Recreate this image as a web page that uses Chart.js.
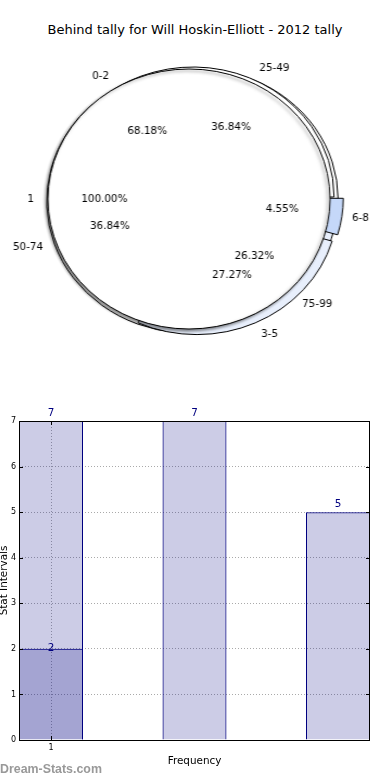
<!DOCTYPE html>
<html>
<head>
<meta charset="utf-8">
<script src="https://cdn.jsdelivr.net/npm/chart.js@4.4.0/dist/chart.umd.min.js"></script>
<style>
  body { margin: 0; background: #fff; width: 390px; height: 780px; position: relative; overflow: hidden; font-family: "DejaVu Sans", sans-serif; }
  #title { position: absolute; top: 21px; left: 0; width: 390px; text-align: center; font-size: 13px; line-height: 18px; color: #000; }
  #pie { position: absolute; left: 9px; top: 49px; width: 360px; height: 300px; transform: scaleX(1.085); transform-origin: 180px 150px; }
  #pie canvas { position: absolute; left: 0; top: 0; }
  #bars { position: absolute; left: 0; top: 400px; }
  #mark { position: absolute; left: 0; top: 762px; font: bold 12.4px "Liberation Sans", sans-serif; color: #999; }
</style>
</head>
<body>
<div id="title">Behind tally for Will Hoskin-Elliott - 2012 tally</div>
<div id="pie">
  <canvas id="pieOuter" width="360" height="300"></canvas>
  <canvas id="pieInner" width="360" height="300"></canvas>
  <canvas id="pieWhole" width="360" height="300"></canvas>
</div>
<canvas id="bars" width="390" height="380"></canvas>
<div id="mark">Dream-Stats.com</div>
<script>
// pie data
const innerLabels = ['0-2', '3-5', '6-8'];
const innerValues = [15, 6, 1];
const outerLabels = ['25-49', '50-74', '75-99'];
const outerValues = [7, 7, 5];
const wholeLabels = ['1'];
const wholeValues = [2];

// bar data
const barX = [1, 2, 3];
const barTotals = [7, 7, 5];
const barInnerX = [1];
const barInnerValues = [2];
const xTicks = [1];

const SX = 1.085;   // horizontal stretch of the pie (matches the oval)
const R = 130;

// chart.js goes clockwise from 12 o'clock, the original goes counter-clockwise from 3 o'clock
function makePie(id, labels, values, colors, offsets, padding, border, plugins) {
    return new Chart(document.getElementById(id), {
        type: 'pie',
        data: {
            labels: labels.slice().reverse(),
            datasets: [{
                data: values.slice().reverse(),
                backgroundColor: colors.slice().reverse(),
                offset: offsets.slice().reverse(),
                borderColor: '#000',
                borderWidth: border
            }]
        },
        options: {
            responsive: false,
            animation: false,
            events: [],
            radius: R,
            rotation: 90,
            layout: { padding: padding },
            plugins: { legend: { display: false }, tooltip: { enabled: false } }
        },
        plugins: plugins || []
    });
}

const pieOuter = makePie('pieOuter', outerLabels, outerValues,
    ['#ffffff', '#ffffff', '#e8effc'], [0, 28, 0], { left: 14.8 }, 1);
const pieInner = makePie('pieInner', innerLabels, innerValues,
    ['#ffffff', '#e8effc', '#c5d8f9'], [0, 33, 20], { left: 7.4, bottom: 4 }, 1);

// the single 100% wedge: shadow, and a plain circle outline (no radius line)
const shadowPlugin = {
    id: 'shadow',
    beforeDatasetsDraw(chart) {
        const ctx = chart.ctx;
        ctx.save();
        ctx.shadowColor = 'rgba(0,0,0,0.45)';
        ctx.shadowOffsetX = -2;
        ctx.shadowOffsetY = 2;
        ctx.shadowBlur = 3;
    },
    afterDatasetsDraw(chart) {
        const ctx = chart.ctx;
        ctx.strokeStyle = '#000';
        ctx.lineWidth = 1;
        chart.getDatasetMeta(0).data.forEach(arc => {
            ctx.beginPath();
            ctx.arc(arc.x, arc.y, arc.outerRadius, 0, Math.PI * 2);
            ctx.stroke();
        });
        ctx.restore();
    }
};

function drawText(ctx, text, x, y, align) {
    ctx.save();
    ctx.translate(x, y);
    ctx.scale(1 / SX, 1);
    ctx.textAlign = align;
    ctx.fillText(text, 0, 0);
    ctx.restore();
}

const pieLabelPlugin = {
    id: 'pieLabels',
    afterDraw(chart) {
        const ctx = chart.ctx;
        ctx.save();
        ctx.font = '10.4px "DejaVu Sans"';
        ctx.fillStyle = '#000';
        ctx.textBaseline = 'middle';
        [pieOuter, pieInner, chart].forEach(c => {
            const meta = c.getDatasetMeta(0);
            const vals = c.data.datasets[0].data;
            const sum = vals.reduce((a, b) => a + b, 0);
            meta.data.forEach((arc, i) => {
                const mid = (arc.startAngle + arc.endAngle) / 2;
                const shift = (arc.options.offset || 0) / 4;
                const cos = Math.cos(mid), sin = Math.sin(mid);
                const cx = arc.x + cos * shift, cy = arc.y + sin * shift;
                const pct = (vals[i] / sum * 100).toFixed(2) + '%';
                drawText(ctx, c.data.labels[i], cx + cos * 1.1 * R, cy + sin * 1.1 * R, cos > 0 ? 'left' : 'right');
                drawText(ctx, pct, cx + cos * 0.6 * R, cy + sin * 0.6 * R, 'center');
            });
        });
        ctx.restore();
    }
};

const pieWhole = makePie('pieWhole', wholeLabels, wholeValues,
    ['#ffffff'], [0], 0, 0, [shadowPlugin, pieLabelPlugin]);

// bar chart
const framePlugin = {
    id: 'frame',
    afterDraw(chart) {
        const { ctx, chartArea: a, scales } = chart;
        ctx.save();
        ctx.strokeStyle = '#000';
        ctx.lineWidth = 1;
        ctx.strokeRect(Math.round(a.left) + 0.5, Math.round(a.top) + 0.5,
            Math.round(a.right - a.left) - 1, Math.round(a.bottom - a.top));
        ctx.beginPath();
        scales.y.ticks.forEach(t => {
            const y = Math.round(scales.y.getPixelForValue(t.value)) + 0.5;
            ctx.moveTo(a.left, y); ctx.lineTo(a.left + 4, y);
            ctx.moveTo(a.right, y); ctx.lineTo(a.right - 4, y);
        });
        scales.x.ticks.forEach(t => {
            const x = Math.round(scales.x.getPixelForValue(t.value)) + 0.5;
            ctx.moveTo(x, a.bottom); ctx.lineTo(x, a.bottom - 4);
            ctx.moveTo(x, a.top); ctx.lineTo(x, a.top + 4);
        });
        ctx.stroke();
        ctx.restore();
    }
};

const valueLabelPlugin = {
    id: 'valueLabels',
    afterDraw(chart) {
        const ctx = chart.ctx;
        ctx.save();
        ctx.font = '10.4px "DejaVu Sans"';
        ctx.fillStyle = '#000080';
        ctx.textAlign = 'center';
        ctx.textBaseline = 'alphabetic';
        chart.data.datasets.forEach((ds, di) => {
            chart.getDatasetMeta(di).data.forEach((bar, i) => {
                ctx.fillText(String(ds.data[i].y), bar.x, bar.y - ds.labelGap);
            });
        });
        ctx.restore();
    }
};

const barColor = 'rgba(0,0,128,0.2)';
new Chart(document.getElementById('bars'), {
    type: 'bar',
    data: {
        datasets: [
            {
                data: barInnerX.map((x, i) => ({ x: x, y: barInnerValues[i] })),
                backgroundColor: barColor, borderColor: '#000080', borderWidth: 1,
                grouped: false, order: 0, labelGap: -2,
                barPercentage: 0.446, categoryPercentage: 1
            },
            {
                data: barX.map((x, i) => ({ x: x, y: barTotals[i] })),
                backgroundColor: barColor, borderColor: '#000080', borderWidth: 1,
                grouped: false, order: 1, labelGap: 5,
                barPercentage: 0.446, categoryPercentage: 1
            }
        ]
    },
    options: {
        responsive: false,
        animation: false,
        events: [],
        layout: { padding: { top: 21, right: 20, left: 0, bottom: 0 } },
        plugins: { legend: { display: false }, tooltip: { enabled: false } },
        scales: {
            x: {
                type: 'linear',
                min: 0.777,
                max: 3.223,
                offset: false,
                z: 1,
                afterBuildTicks: s => { s.ticks = xTicks.map(v => ({ value: v })); },
                afterFit: s => { s.height = 40; },
                ticks: { color: '#000', font: { family: 'DejaVu Sans', size: 8 }, padding: 3 },
                grid: { color: '#aaaaaa', drawTicks: false, offset: false },
                border: { display: false, dash: [1, 2] },
                title: { display: true, text: 'Frequency', color: '#000',
                    font: { family: 'DejaVu Sans', size: 10.4 }, padding: { top: 0, bottom: 12.8 } }
            },
            y: {
                min: 0,
                max: 7,
                z: 1,
                afterFit: s => { s.width = 19; },
                ticks: { stepSize: 1, color: '#000', font: { family: 'DejaVu Sans', size: 8 }, padding: 3 },
                grid: { color: '#aaaaaa', drawTicks: false },
                border: { display: false, dash: [1, 2] },
                title: { display: true, text: 'Stat Intervals', color: '#000',
                    font: { family: 'DejaVu Sans', size: 10.4 }, padding: { top: -2, bottom: 0 } }
            }
        }
    },
    plugins: [framePlugin, valueLabelPlugin]
});
</script>
</body>
</html>
